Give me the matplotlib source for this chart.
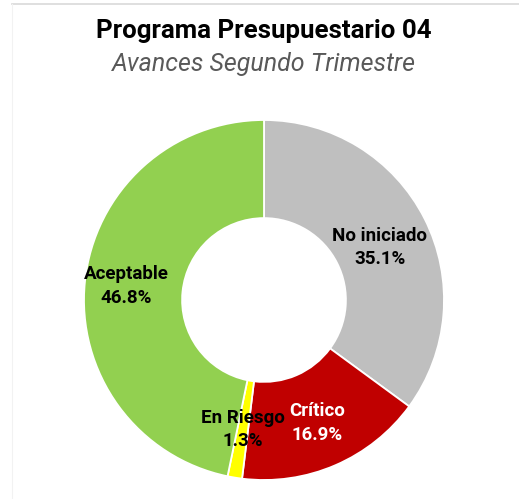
import matplotlib.pyplot as plt
import numpy as np
from matplotlib.lines import Line2D

# datos del grafico
categorias = ['No iniciado', 'Crítico', 'En Riesgo', 'Aceptable']
porcentajes = [35.1, 16.9, 1.3, 46.8]
colores = ['#BFBFBF', '#C00000', '#FFFF00', '#92D050']
color_texto = ['black', 'white', 'black', 'black']

titulo = 'Programa Presupuestario 04'
subtitulo = 'Avances Segundo Trimestre'

fuente = ['Roboto', 'DejaVu Sans']

W, H = 519, 499
fig = plt.figure(figsize=(W / 100, H / 100), dpi=100)
fig.patch.set_facecolor('white')

# marco del area del grafico (linea superior e izquierda)
fig.add_artist(Line2D([12 / W, 1], [1 - 3.5 / H, 1 - 3.5 / H], color='#D9D9D9', lw=1.2))
fig.add_artist(Line2D([11.5 / W, 11.5 / W], [0, 1 - 3.5 / H], color='#F2F2F2', lw=0.8))

cx, cy, R = 264, 300, 180
ax = fig.add_axes([(cx - R) / W, (H - cy - R) / H, 2 * R / W, 2 * R / H])
ancho = 0.545
wedges, _ = ax.pie(porcentajes, colors=colores, startangle=90, counterclock=False,
                   radius=1, wedgeprops=dict(width=ancho, edgecolor='white', linewidth=1.3))
ax.set_xlim(-1, 1)
ax.set_ylim(-1, 1)
ax.axis('off')

# etiquetas en el centro del anillo, con pequeños ajustes
radios = [0.72, 0.745, 0.73, 0.77]
ajuste_y = [-0.035, 0.0, 0.0, 0.0]
for w, cat, p, c, r, dy in zip(wedges, categorias, porcentajes, color_texto, radios, ajuste_y):
    ang = np.deg2rad((w.theta1 + w.theta2) / 2)
    ax.text(r * np.cos(ang), r * np.sin(ang) + dy, f'{cat}\n{p:.1f}%', ha='center', va='center',
            color=c, fontsize=13.5, fontweight='bold', family=fuente, linespacing=1.38)

fig.text(264 / W, 1 - 31 / H, titulo, ha='center', va='center', fontsize=18.6,
         fontweight='bold', family=fuente, color='black')
fig.text(264 / W, 1 - 64 / H, subtitulo, ha='center', va='center', fontsize=18,
         style='italic', family=fuente, color='#595959')

fig.savefig('out.png', dpi=100)
